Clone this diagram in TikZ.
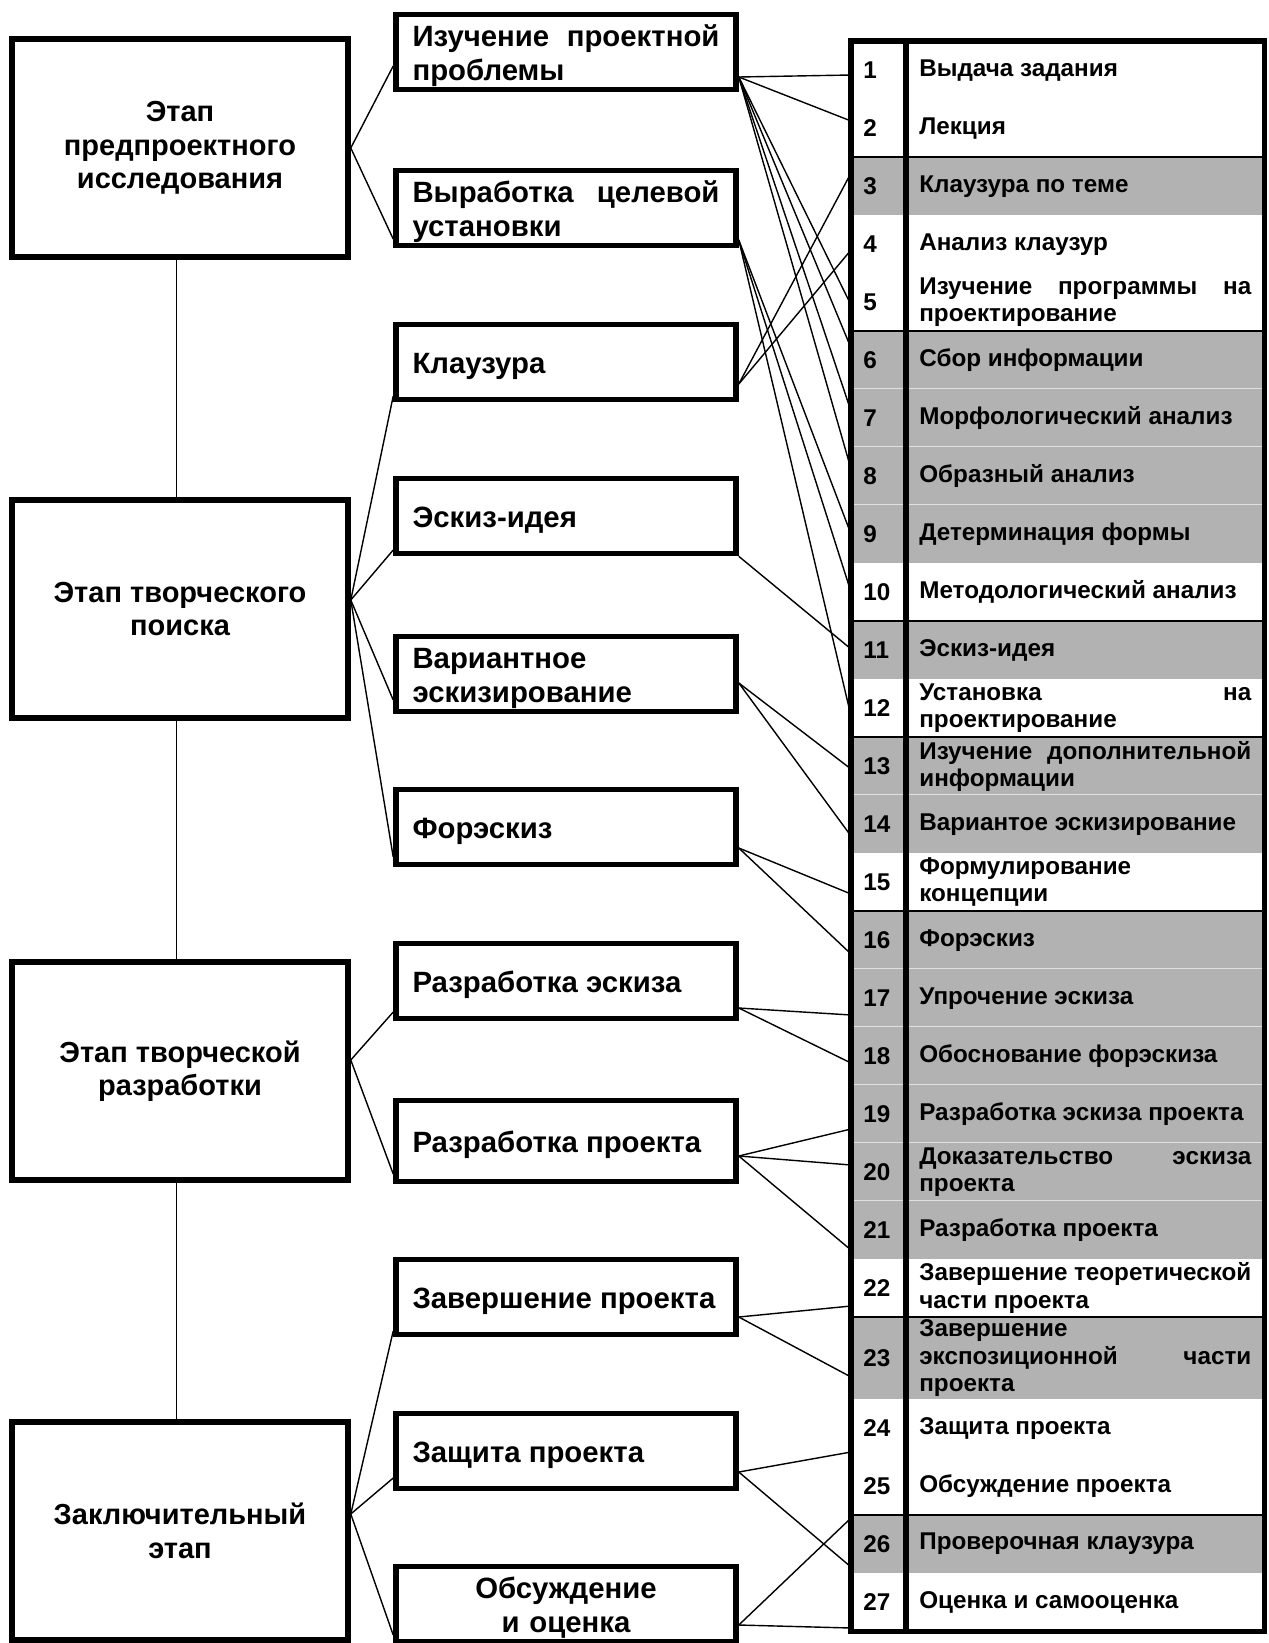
\documentclass[tikz,border=0pt]{standalone}
\usepackage{fontspec}
\setmainfont{Liberation Sans}
\usetikzlibrary{matrix}

\tikzset{
	stagebox/.style={draw, line width=3.2pt, minimum width=6.72cm, minimum height=4.36cm, align=center, font=\fontsize{16.5}{19}\selectfont\bfseries},
	midbox/.style={draw, line width=3.2pt, minimum width=6.8cm, minimum height=1.5cm, inner ysep=0pt, text width=6.14cm, align=justify, font=\fontsize{16.7}{19}\selectfont\bfseries, execute at begin node={\rule{0pt}{16.5pt}}},
	gr/.style={fill=black!30},
	link/.style={line width=0.8pt}
}

\begin{document}
\begin{tikzpicture}[x=0.02cm, y=-0.02cm]
	\useasboundingbox (0,0) rectangle (1268,1643);
	\node[stagebox] (s1) at (180,148) {Этап\\предпроектного\\исследования};
	\node[stagebox] (s2) at (180,609) {Этап творческого\\поиска};
	\node[stagebox] (s3) at (180,1071) {Этап творческой\\разработки};
	\node[stagebox] (s4) at (180,1531) {Заключительный\\этап};
	\foreach \a/\b in {s1/s2, s2/s3, s3/s4} \draw (\a.south -| 176,0) -- (\b.north -| 176,0);

	\node[midbox] (m1) at (566,52) {Изучение проектной\linebreak проблемы};
	\node[midbox] (m2) at (566,208) {Выработка целевой\linebreak установки};
	\node[midbox] (m3) at (566,362) {Клаузура};
	\node[midbox] (m4) at (566,516) {Эскиз-идея};
	\node[midbox] (m5) at (566,674) {Вариантное\newline эскизирование};
	\node[midbox] (m6) at (566,827) {Форэскиз};
	\node[midbox] (m7) at (566,981) {Разработка эскиза};
	\node[midbox, minimum height=1.62cm] (m8) at (566,1141) {Разработка проекта};
	\node[midbox] (m9) at (566,1297) {Завершение проекта};
	\node[midbox] (m10) at (566,1451) {Защита проекта};
	\node[midbox, align=center] (m11) at (566,1604) {Обсуждение\\и оценка};

	\matrix (T) [matrix of nodes, anchor=north west, inner sep=0pt, column sep=0pt, row sep=0pt,
		nodes={anchor=center, minimum height=1.16cm, inner ysep=0pt, font=\fontsize{13.8}{15.6}\selectfont\bfseries},
		column 1/.style={nodes={text width=0.62cm, inner xsep=0.24cm, align=left}},
		column 2/.style={nodes={text width=6.64cm, inner xsep=0.26cm, align=justify}},
		row 23/.style={nodes={minimum height=1.64cm}}] at (851,41) {
		1 & Выдача задания \\
		2 & Лекция \\
		|[gr]| 3 & |[gr]| Клаузура по теме \\
		4 & Анализ клаузур \\
		5 & Изучение программы на\linebreak проектирование \\
		|[gr]| 6 & |[gr]| Сбор информации \\
		|[gr]| 7 & |[gr]| Морфологический анализ \\
		|[gr]| 8 & |[gr]| Образный анализ \\
		|[gr]| 9 & |[gr]| Детерминация формы \\
		10 & Методологический анализ \\
		|[gr]| 11 & |[gr]| Эскиз-идея \\
		12 & Установка на\linebreak проектирование \\
		|[gr]| 13 & |[gr]| Изучение дополнительной\linebreak информации \\
		|[gr]| 14 & |[gr]| Вариантое эскизирование \\
		15 & Формулирование\newline концепции \\
		|[gr]| 16 & |[gr]| Форэскиз \\
		|[gr]| 17 & |[gr]| Упрочение эскиза \\
		|[gr]| 18 & |[gr]| Обоснование форэскиза \\
		|[gr]| 19 & |[gr]| Разработка эскиза проекта \\
		|[gr]| 20 & |[gr]| Доказательство эскиза\linebreak проекта \\
		|[gr]| 21 & |[gr]| Разработка проекта \\
		22 & Завершение теоретической\linebreak части проекта \\
		|[gr]| 23 & |[gr]| Завершение\newline экспозиционной части\linebreak проекта \\
		24 & Защита проекта \\
		25 & Обсуждение проекта \\
		|[gr]| 26 & |[gr]| Проверочная клаузура \\
		27 & Оценка и самооценка \\
	};
	\foreach \r in {7,8,9,14,17,18,19,20,21} \draw[line width=0.6pt, black!12] (T-\r-1.north west) -- (T-\r-2.north east);
	\foreach \r in {3,6,11,13,16,23,26} \draw[line width=1.3pt] (T-\r-1.north west) -- (T-\r-2.north east);
	\draw[line width=3.6pt] (T-1-2.north west) -- (T-27-2.south west);
	\draw[line width=3pt] (T.north west) rectangle (T.south east);

	% stages to tasks
	\foreach \m/\y in {m1/66, m2/239} \draw[link] (s1.east) -- (\m.west |- 0,\y);
	\foreach \m/\y in {m3/396, m4/550, m5/700, m6/857} \draw[link] (s2.east |- 0,600) -- (\m.west |- 0,\y);
	\foreach \m/\y in {m7/1012, m8/1174} \draw[link] (s3.east |- 0,1060) -- (\m.west |- 0,\y);
	\foreach \m/\y in {m9/1331, m10/1478, m11/1635} \draw[link] (s4.east |- 0,1514) -- (\m.west |- 0,\y);

	% tasks to table
	\foreach \r/\y in {1/75, 2/121, 5/305, 6/348, 7/411, 8/469} \draw[link] (m1.east |- 0,77) -- (T-\r-1.west |- 0,\y);
	\foreach \r/\y in {9/534, 10/592, 12/716} \draw[link] (m2.east |- 0,240) -- (T-\r-1.west |- 0,\y);
	\foreach \r/\y in {3/173, 4/250} \draw[link] (m3.east |- 0,384) -- (T-\r-1.west |- 0,\y);
	\draw[link] (m4.south east) -- (T-11-1.west |- 0,649);
	\foreach \r/\y in {13/769, 14/836} \draw[link] (m5.east |- 0,683) -- (T-\r-1.west |- 0,\y);
	\foreach \r/\y in {15/894, 16/954} \draw[link] (m6.east |- 0,848) -- (T-\r-1.west |- 0,\y);
	\foreach \r/\y in {17/1015, 18/1063} \draw[link] (m7.east |- 0,1008) -- (T-\r-1.west |- 0,\y);
	\foreach \r/\y in {19/1129, 20/1165, 21/1250} \draw[link] (m8.east |- 0,1156) -- (T-\r-1.west |- 0,\y);
	\foreach \r/\y in {22/1306, 23/1377} \draw[link] (m9.east |- 0,1317) -- (T-\r-1.west |- 0,\y);
	\foreach \r/\y in {24/1452, 26/1567} \draw[link] (m10.east |- 0,1472) -- (T-\r-1.west |- 0,\y);
	\foreach \r/\y in {26/1518, 27/1628} \draw[link] (m11.east |- 0,1625) -- (T-\r-1.west |- 0,\y);
\end{tikzpicture}
\end{document}
